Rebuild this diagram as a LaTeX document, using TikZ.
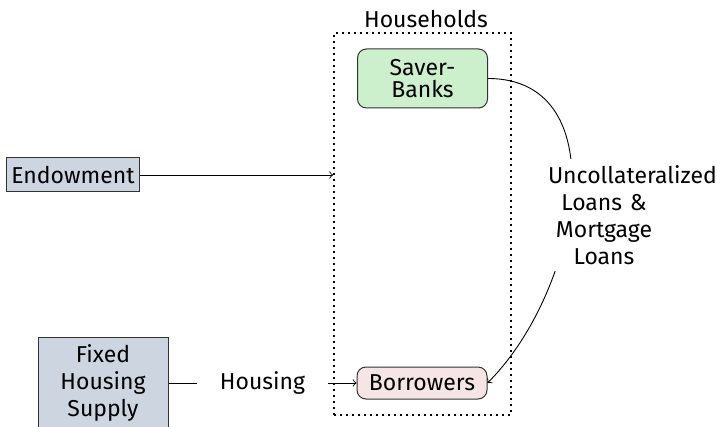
\documentclass[tikz,border=0pt]{standalone}
\usepackage{fontspec}
\setmainfont{Fira Sans}
\definecolor{boxblue}{HTML}{CDD5E0}
\definecolor{boxgreen}{HTML}{CCEFCC}
\definecolor{boxpink}{HTML}{F5E5E5}
\definecolor{edgegray}{HTML}{333333}
\begin{document}
\begin{tikzpicture}[x=0.5pt,y=-0.5pt,
  every node/.style={font=\fontsize{11.5}{13.5}\selectfont},
  sqbox/.style={draw=edgegray, line width=0.5pt, fill=boxblue, minimum width=65pt, align=center},
  rbox/.style={draw=edgegray, line width=0.5pt, rounded corners=4.5pt, minimum width=65pt, align=center},
  dotbox/.style={draw=black, line width=0.9pt, dash pattern=on 0.9pt off 2.1pt},
  conn/.style={->, line width=0.45pt},
  plain/.style={line width=0.45pt}]
\useasboundingbox (0,0) rectangle (717,427);
\node[dotbox, minimum width=88.5pt, minimum height=191pt] (hh) at (422.5,224) {};
\node (hlabel) at (426,19) {Households};
\node[rbox, fill=boxgreen, minimum height=29.5pt] (sb) at (422.5,78.5) {Saver-\\[-2.5pt]Banks};
\node[rbox, fill=boxpink, minimum height=16pt] (bor) at (422,383) {Borrowers};
\node[sqbox, minimum height=17pt, inner xsep=2.5pt] (endow) at (73,175) {Endowment};
\node[sqbox, minimum height=45pt] (fhs) at (103,383) {Fixed\\Housing\\Supply};
\node[minimum width=65pt] (housing) at (262.5,383) {Housing};
\draw[conn] (endow.east) -- (endow.east -| hh.west);
\draw[plain] (fhs.east) -- (housing.west);
\draw[conn] (housing.east) -- (bor.west);
\draw[conn] (sb.east) to[out=0,in=45,looseness=1.1] (bor.east);
\node[fill=white, text width=56pt, align=center] (loans) at (604,215) {Uncollateralized\\Loans \&\\Mortgage\\Loans};
\end{tikzpicture}
\end{document}
